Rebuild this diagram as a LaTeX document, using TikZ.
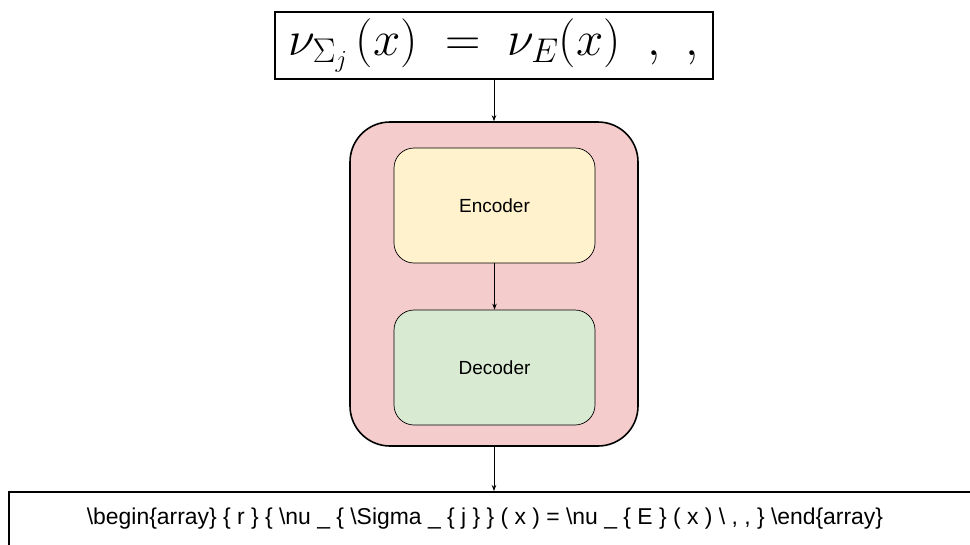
\documentclass[tikz,border=0pt]{standalone}
\usepackage{fix-cm}
\usepackage{fontspec}
\setmainfont{Liberation Sans}
\usetikzlibrary{arrows.meta}
\definecolor{pinkfill}{HTML}{F4CCCC}
\definecolor{yellowfill}{HTML}{FFF2CC}
\definecolor{greenfill}{HTML}{D9EAD3}
\begin{document}
\begin{tikzpicture}[x=1pt,y=-1pt,
  arr/.style={-{Stealth[length=6pt,width=4.5pt]},line width=0.8pt},
  outerbox/.style={draw,line width=1.6pt},
  innerbox/.style={draw,line width=0.7pt,rounded corners=20pt,minimum width=201pt,minimum height=115pt,font=\fontsize{19}{22}\selectfont}]
\useasboundingbox (0,0) rectangle (970,544);
\clip (0,0) rectangle (970,544);
\node[outerbox,fill=white,minimum width=438pt,minimum height=67pt,inner sep=0pt] (top) at (494,45.5)
  {\fontsize{49}{58}\selectfont $\nu_{\Sigma_j}\,(x)\;=\;\nu_E(x)\;\;,\,\,,$};
\node[outerbox,fill=pinkfill,rounded corners=40pt,minimum width=288pt,minimum height=324pt] (outer) at (494,284) {};
\node[innerbox,fill=yellowfill] (enc) at (494.5,205.5) {Encoder};
\node[innerbox,fill=greenfill] (dec) at (494.5,367.5) {Decoder};
\node[outerbox,fill=white,minimum width=980pt,minimum height=100pt,anchor=north west] (bot) at (8,491) {};
\node (bottext) at (485,519) {\fontsize{22.9}{26}\selectfont \textbackslash begin\{array\} \{ r \} \{ \textbackslash nu \_ \{ \textbackslash Sigma \_ \{ j \} \} ( x ) = \textbackslash nu \_ \{ E \} ( x ) \textbackslash\ , , \} \textbackslash end\{array\}};
\draw[arr] (top.south -| outer.north) -- (outer.north);
\draw[arr] (enc.south) -- (dec.north);
\draw[arr] (outer.south) -- (bot.north -| outer.south);
\end{tikzpicture}
\end{document}
